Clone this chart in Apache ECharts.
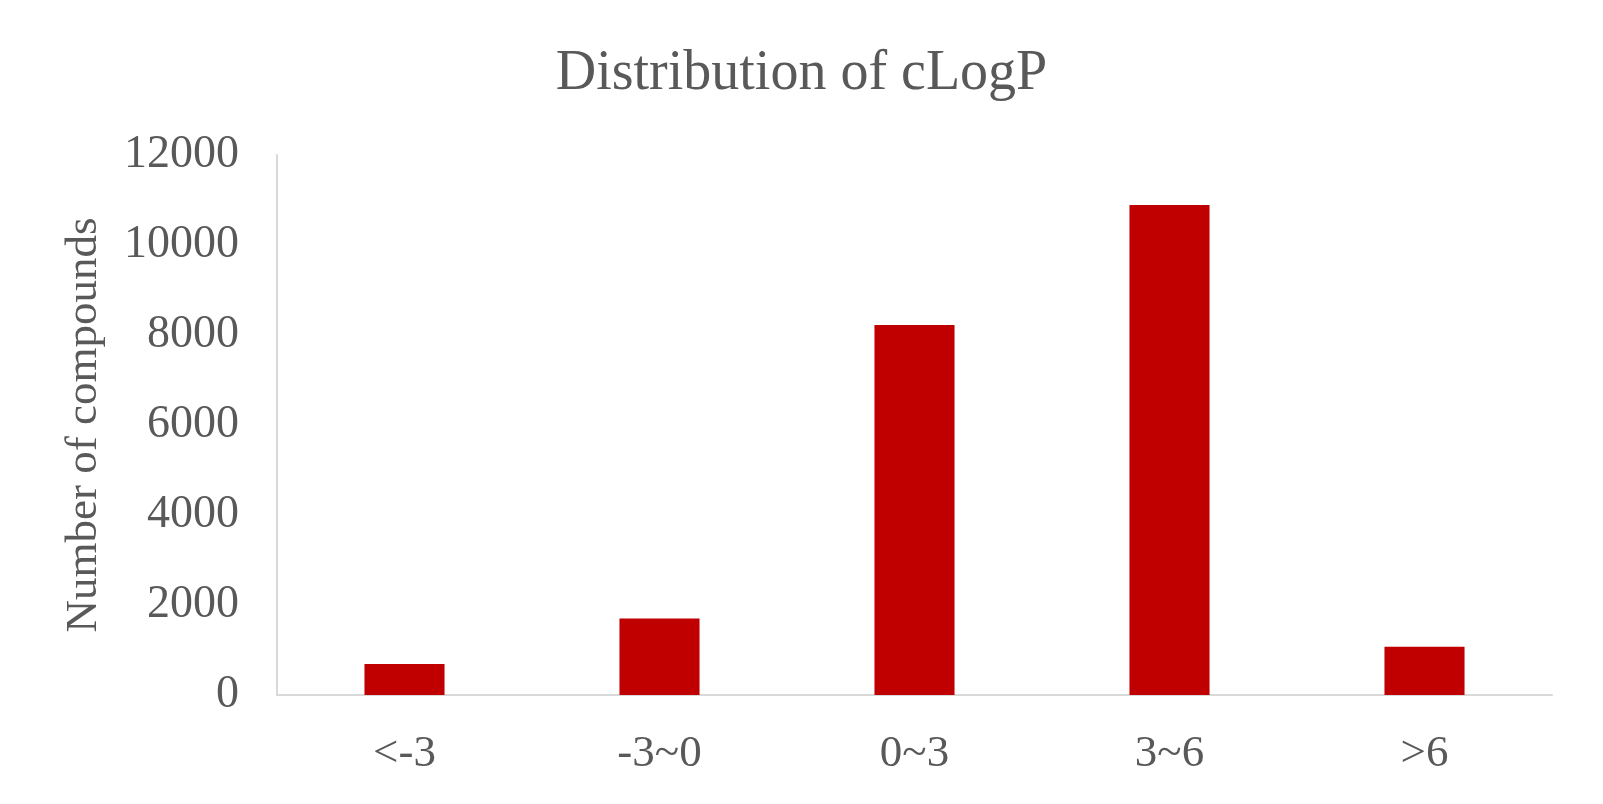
<!DOCTYPE html>
<html>
<head>
<meta charset="utf-8">
<script src="https://cdn.jsdelivr.net/npm/echarts@6/dist/echarts.min.js"></script>
<style>html,body{margin:0;padding:0;background:#fff;}#c{width:1603px;height:804px;}</style>
</head>
<body>
<div id="c"></div>
<script>
const categories = ['<-3', '-3~0', '0~3', '3~6', '>6'];
const counts = [690, 1700, 8220, 10890, 1070];
const yTicks = { min: 0, max: 12000, interval: 2000 };

const FONT = '"Liberation Serif", "Times New Roman", serif';
const TXT = '#595959';
const chart = echarts.init(document.getElementById('c'));
chart.setOption({
  backgroundColor: '#ffffff',
  animation: false,
  title: {
    text: 'Distribution of cLogP',
    left: 'center',
    top: 41,
    textStyle: { fontFamily: FONT, fontSize: 56, fontWeight: 'normal', color: TXT }
  },
  grid: { left: 277, right: 51, top: 155, bottom: 109, containLabel: false },
  xAxis: {
    type: 'category',
    data: categories,
    axisLine: { show: true, lineStyle: { color: '#D9D9D9', width: 2 } },
    axisTick: { show: false },
    axisLabel: { fontFamily: FONT, fontSize: 45, color: TXT, margin: 37 }
  },
  yAxis: {
    type: 'value',
    min: yTicks.min, max: yTicks.max, interval: yTicks.interval,
    name: 'Number of compounds',
    nameLocation: 'middle',
    nameGap: 170,
    nameTextStyle: { fontFamily: FONT, fontSize: 45, color: TXT },
    axisLine: { show: true, lineStyle: { color: '#D9D9D9', width: 2 } },
    axisTick: { show: false },
    splitLine: { show: false },
    axisLabel: { fontFamily: FONT, fontSize: 46, color: TXT, margin: 38, formatter: v => String(v) }
  },
  series: [{
    type: 'bar',
    data: counts,
    barWidth: '31.4%',
    itemStyle: { color: '#C00000' }
  }]
});
</script>
</body>
</html>
